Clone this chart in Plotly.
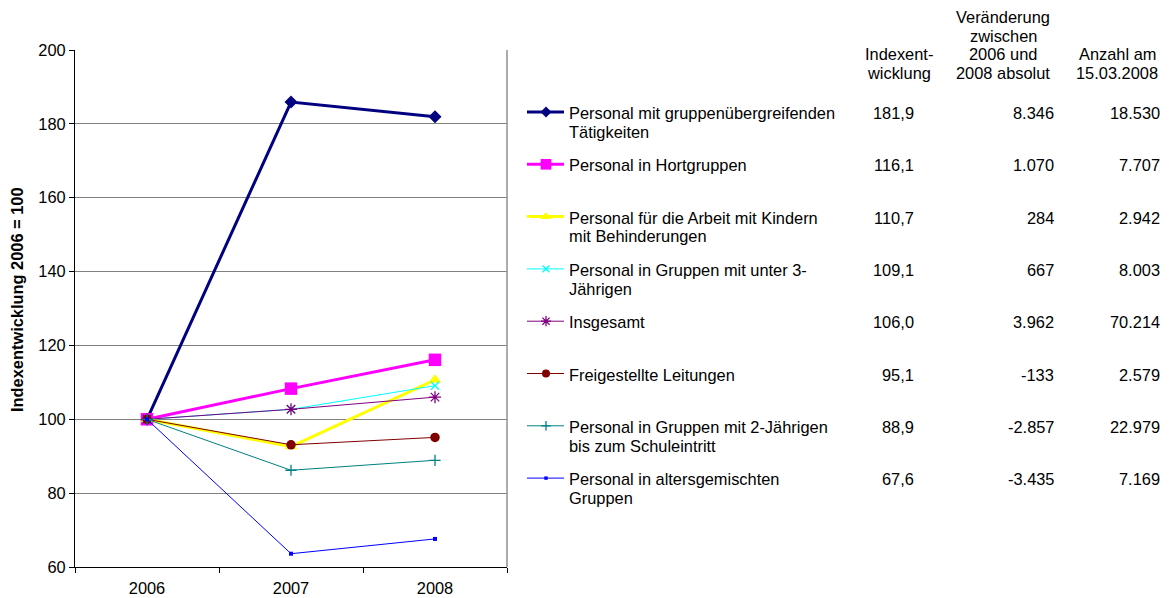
import plotly.graph_objects as go

# page body adds an 8px margin; work in reference pixel coords and shift
OFF = 8
W, H = 1169 - OFF, 598 - OFF
years = ["2006", "2007", "2008"]

names = [
    ["Personal mit gruppenübergreifenden", "Tätigkeiten"],
    ["Personal in Hortgruppen"],
    ["Personal für die Arbeit mit Kindern", "mit Behinderungen"],
    ["Personal in Gruppen mit unter 3-", "Jährigen"],
    ["Insgesamt"],
    ["Freigestellte Leitungen"],
    ["Personal in Gruppen mit 2-Jährigen", "bis zum Schuleintritt"],
    ["Personal in altersgemischten", "Gruppen"],
]
s_gruppenuebergreifend = [100, 185.9, 181.9]
s_hort = [100, 108.3, 116.1]
s_behinderung = [100, 92.6, 110.7]
s_unter3 = [100, 102.7, 109.1]
s_insgesamt = [100, 102.7, 106.0]
s_leitungen = [100, 93.1, 95.1]
s_2jaehrige = [100, 86.2, 88.9]
s_altersgemischt = [100, 63.6, 67.6]
series = [s_gruppenuebergreifend, s_hort, s_behinderung, s_unter3,
          s_insgesamt, s_leitungen, s_2jaehrige, s_altersgemischt]

col_index = ["181,9", "116,1", "110,7", "109,1", "106,0", "95,1", "88,9", "67,6"]
col_change = ["8.346", "1.070", "284", "667", "3.962", "-133", "-2.857", "-3.435"]
col_count = ["18.530", "7.707", "2.942", "8.003", "70.214", "2.579", "22.979", "7.169"]

hdr_index = ["Indexent-", "wicklung"]
hdr_change = ["Veränderung", "zwischen", "2006 und", "2008 absolut"]
hdr_count = ["Anzahl am", "15.03.2008"]

styles = [
    dict(color="#000080", width=3, symbol="diamond", size=10, mlw=0),
    dict(color="#FF00FF", width=3, symbol="square", size=12.5, mlw=0),
    dict(color="#FFFF00", width=3, symbol="triangle-up", size=11, mlw=0),
    dict(color="#00FFFF", width=1, symbol="x-thin", size=8, mlw=1.3),
    dict(color="#800080", width=1, symbol="asterisk", size=10, mlw=1.3),
    dict(color="#800000", width=1, symbol="circle", size=9.5, mlw=0),
    dict(color="#008080", width=1, symbol="cross-thin", size=8, mlw=1.3),
    dict(color="#0000FF", width=1, symbol="square", size=4, mlw=0),
]

FONT = "Liberation Sans, Arial, sans-serif"
FS = 16.4

fig = go.Figure()

for nm, vals, st in zip(names, series, styles):
    fig.add_trace(go.Scatter(
        x=years, y=vals, mode="lines+markers", name=" ".join(nm),
        line=dict(color=st["color"], width=st["width"]),
        marker=dict(symbol=st["symbol"], size=st["size"], color=st["color"],
                    line=dict(color=st["color"], width=st["mlw"])),
        xaxis="x", yaxis="y", showlegend=False, cliponaxis=False,
    ))

# legend glyphs on a pixel-scaled overlay axis (reference pixel coordinates)
row0, rstep = 113, 52.3
rows = [row0 + rstep * i for i in range(len(names))]
for ry, st in zip(rows, styles):
    fig.add_trace(go.Scatter(
        x=[527, 564], y=[ry - 1, ry - 1], mode="lines",
        line=dict(color=st["color"], width=st["width"]),
        xaxis="x2", yaxis="y2", showlegend=False, hoverinfo="skip"))
    fig.add_trace(go.Scatter(
        x=[546], y=[ry - 1], mode="markers",
        marker=dict(symbol=st["symbol"], size=st["size"] * 0.85, color=st["color"],
                    line=dict(color=st["color"], width=st["mlw"])),
        xaxis="x2", yaxis="y2", showlegend=False, hoverinfo="skip"))

ann = []
def txt(x, y, t, xanchor="left"):
    ann.append(dict(x=x, y=y, xref="x2", yref="y2", text=t,
                    showarrow=False, xanchor=xanchor, yanchor="middle",
                    font=dict(family=FONT, size=FS, color="black")))

LS = 18.7
for ry, nm in zip(rows, names):
    for k, line in enumerate(nm):
        txt(567, ry + k * LS, line)

for ry, a, b, c in zip(rows, col_index, col_change, col_count):
    txt(916, ry, a, "right")
    txt(1056, ry, b, "right")
    txt(1162, ry, c, "right")

for k, line in enumerate(hdr_index):
    txt(899, 54 + k * LS, line, "center")
for k, line in enumerate(hdr_change):
    txt(1003, 17 + k * LS, line, "center")
for k, line in enumerate(hdr_count):
    txt(1117, 54 + k * LS, line, "center")

ann.append(dict(x=17, y=300, xref="x2", yref="y2", text="<b>Indexentwicklung 2006 = 100</b>",
                textangle=-90, showarrow=False, xanchor="center", yanchor="middle",
                font=dict(family=FONT, size=FS, color="black")))

px_l, px_r, px_t, px_b = 75, 507, 50, 567

def fx(p):
    return (p - OFF) / W

def fy(p):
    return 1 - (p - OFF) / H

fig.update_layout(
    width=W, height=H,
    margin=dict(l=0, r=0, t=0, b=0),
    paper_bgcolor="white", plot_bgcolor="rgba(0,0,0,0)",
    font=dict(family=FONT, size=FS, color="black"),
    xaxis=dict(domain=[fx(px_l), fx(px_r)], type="category", range=[-0.5, 2.5],
               showline=True, linecolor="black", linewidth=1, showgrid=False,
               ticks="outside", tickson="boundaries", ticklen=5, tickcolor="black",
               ticklabelstandoff=6,
               tickfont=dict(family=FONT, size=FS), anchor="y", automargin=False),
    yaxis=dict(domain=[fy(px_b), fy(px_t)], range=[60, 200], dtick=20,
               showline=True, linecolor="black", linewidth=1,
               showgrid=True, gridcolor="#808080", gridwidth=1, zeroline=False,
               ticks="outside", ticklen=5, tickcolor="black",
               tickfont=dict(family=FONT, size=FS), anchor="x", automargin=False),
    xaxis2=dict(domain=[0, 1], range=[OFF, OFF + W], visible=False, anchor="y2", fixedrange=True),
    yaxis2=dict(domain=[0, 1], range=[OFF + H, OFF], visible=False, anchor="x2", fixedrange=True),
    annotations=ann,
    shapes=[dict(type="line", xref="paper", yref="paper", x0=fx(px_r), x1=fx(px_r),
                 y0=fy(px_b), y1=fy(px_t), line=dict(color="#909090", width=1.5))],
)

fig.write_html("out.html")
